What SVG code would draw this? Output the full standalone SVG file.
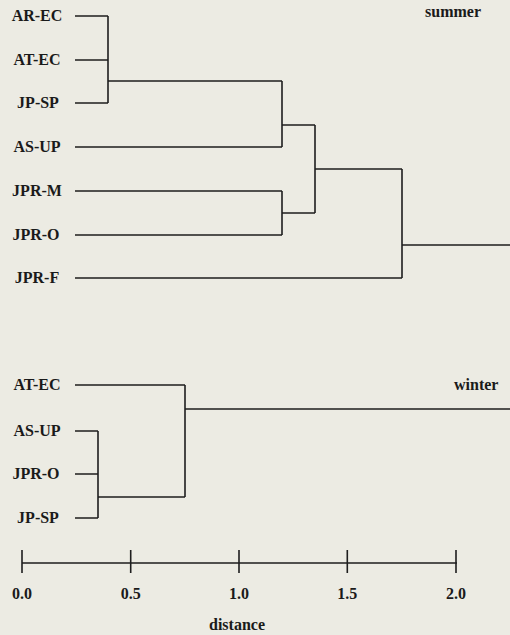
<svg xmlns="http://www.w3.org/2000/svg" width="510" height="635" viewBox="0 0 510 635">
<style>
text{font-family:"Liberation Serif","Times New Roman",serif;font-weight:bold;font-size:16px;fill:#1a1a1a}
.lab{text-anchor:middle}
.c{fill:none;stroke:#1e1e1e;stroke-width:1.6}
</style>
<rect width="510" height="635" fill="#ecebe3"/>
<g id="summer-labels">
<g id="s-AR-EC"><text class="lab" x="37" y="21">AR-EC</text></g>
<g id="s-AT-EC"><text class="lab" x="37" y="65">AT-EC</text></g>
<g id="s-JP-SP"><text class="lab" x="38" y="108">JP-SP</text></g>
<g id="s-AS-UP"><text class="lab" x="37" y="152">AS-UP</text></g>
<g id="s-JPR-M"><text class="lab" x="37" y="196">JPR-M</text></g>
<g id="s-JPR-O"><text class="lab" x="36" y="240">JPR-O</text></g>
<g id="s-JPR-F"><text class="lab" x="37" y="283">JPR-F</text></g>
<g id="s-title"><text x="425" y="17">summer</text></g>
</g>
<g id="winter-labels">
<g id="w-AT-EC"><text class="lab" x="37" y="390">AT-EC</text></g>
<g id="w-AS-UP"><text class="lab" x="37" y="436">AS-UP</text></g>
<g id="w-JPR-O"><text class="lab" x="36" y="479">JPR-O</text></g>
<g id="w-JP-SP"><text class="lab" x="38" y="523">JP-SP</text></g>
<g id="w-title"><text x="454" y="390">winter</text></g>
</g>
<g id="connectors" class="c">
<path class="c" d="M75 16H108M75 60H108M75 103H108M108 16V103M108 81H282"/>
<path class="c" d="M75 147H282M282 81V147M282 125H315"/>
<path class="c" d="M75 191H282M75 235H282M282 191V235M282 213H315"/>
<path class="c" d="M315 125V213M315 169H402"/>
<path class="c" d="M75 278H402M402 169V278M402 245H510"/>
<path class="c" d="M75 385H185M185 385V497M185 409H510"/>
<path class="c" d="M75 431H98M75 474H98M75 518H98M98 431V518M98 497H185"/>
</g>
<g id="axis">
<path class="c" d="M22 563H457M22 550V573M130.7 550V573M239 550V573M347.3 550V573M456 550V573"/>
<text class="lab" x="22" y="599">0.0</text>
<text class="lab" x="130.7" y="599">0.5</text>
<text class="lab" x="239" y="599">1.0</text>
<text class="lab" x="347.3" y="599">1.5</text>
<text class="lab" x="456" y="599">2.0</text>
<text class="lab" x="237" y="630">distance</text>
</g>
</svg>
